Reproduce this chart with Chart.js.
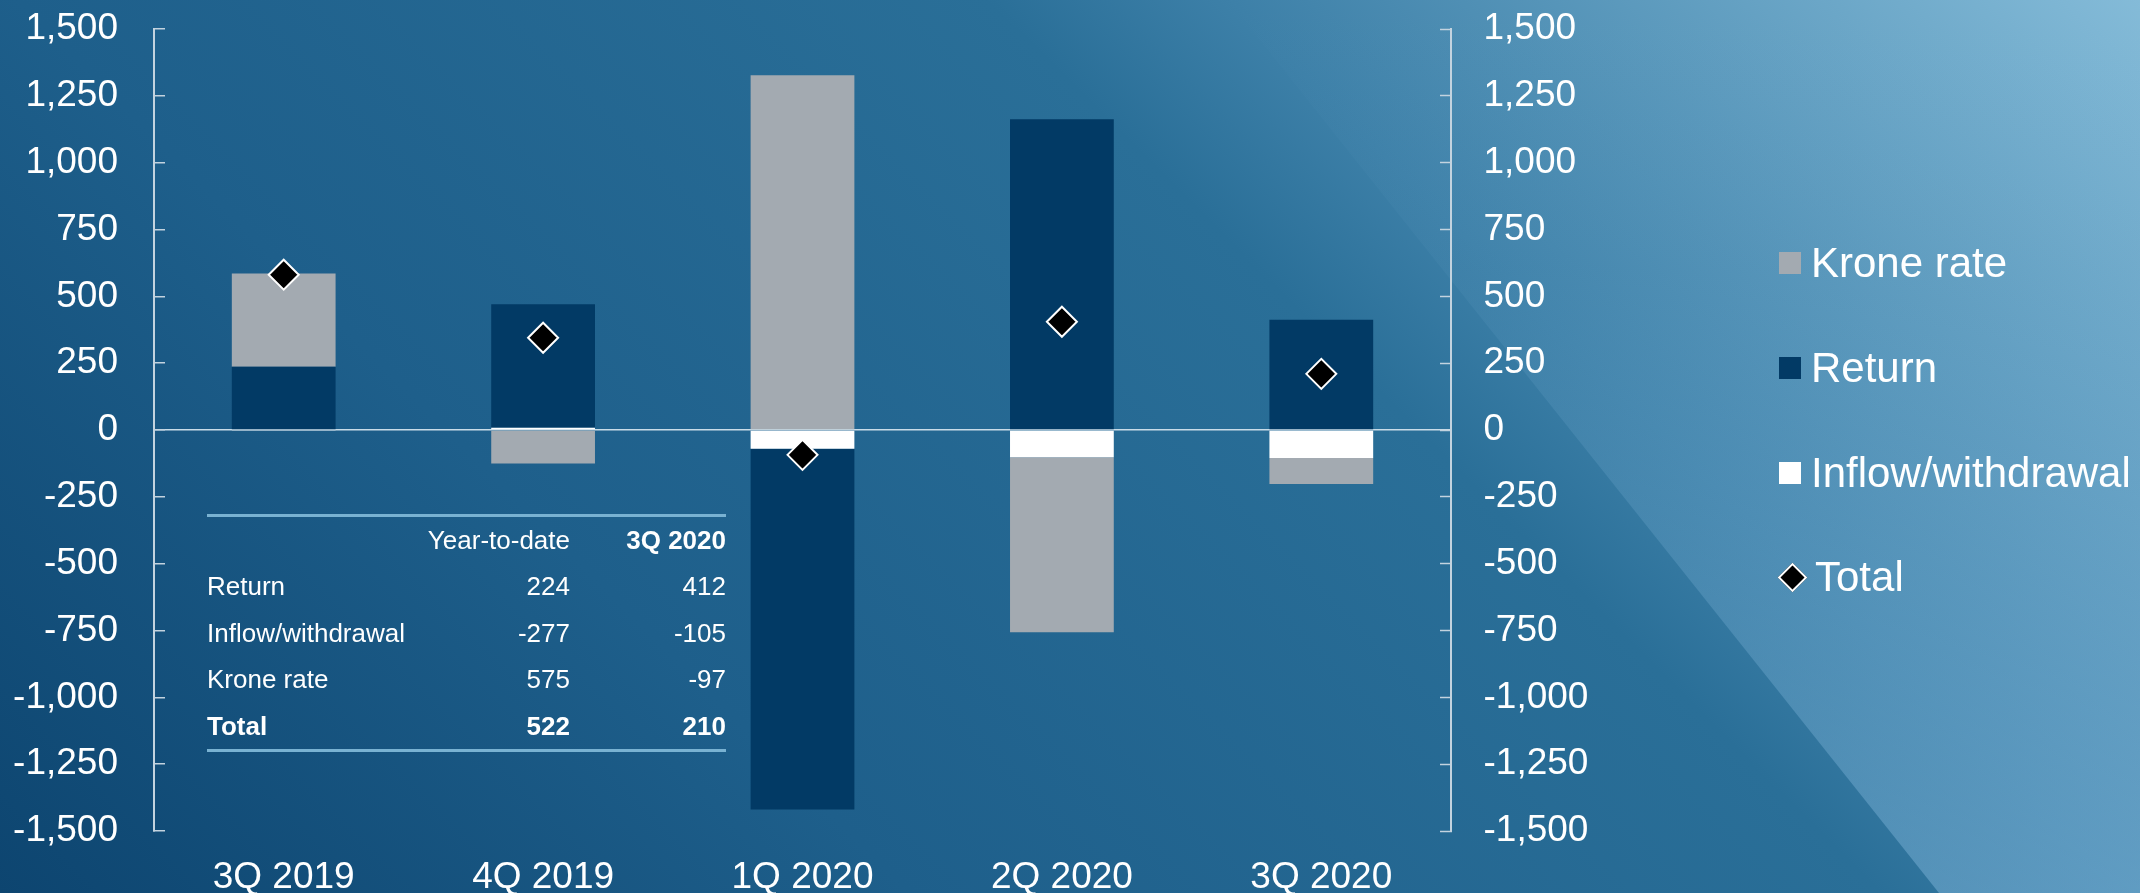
<!DOCTYPE html>
<html>
<head>
<meta charset="utf-8">
<title>Market value change</title>
<script src="https://cdn.jsdelivr.net/npm/chart.js@4.4.1/dist/chart.umd.min.js"></script>
<style>
    html, body { margin: 0; padding: 0; }
    body { width: 2140px; height: 893px; overflow: hidden; font-family: "Liberation Sans", Arial, sans-serif; }
    #wrap {
        position: relative; width: 2140px; height: 893px; overflow: hidden;
        background: linear-gradient(45deg, #0d4570 0%, #1e5f8b 30%, #2a6f98 62%, #3d80a8 70%, #84bbd8 100%);
    }
    /* lighter band in the lower right corner */
    #glow {
        position: absolute; left: 0; top: 0; width: 2140px; height: 893px;
        clip-path: polygon(1228px 0, 2140px 0, 2140px 893px, 1939px 893px);
        background: linear-gradient(to bottom, rgba(150, 200, 235, 0) 0%, rgba(150, 200, 235, 0.05) 30%, rgba(150, 200, 235, 0.38) 100%);
    }
    canvas { position: absolute; left: 0; top: 0; }
    #summary {
        position: absolute; left: 207px; top: 513.5px; width: 519px;
        border-top: 3px solid #79b2d2; border-bottom: 3px solid #79b2d2;
        color: #fff; font-size: 26px;
    }
    #summary .row { display: grid; grid-template-columns: 213px 150px 156px; height: 46.5px; line-height: 46.5px; }
    #summary .num { text-align: right; }
    #summary .bold { font-weight: bold; }
    #legend { position: absolute; left: 1779px; top: 211px; margin: 0; padding: 0; list-style: none; }
    #legend li { height: 104.7px; display: flex; align-items: center; color: #fff; font-size: 42px; white-space: nowrap; }
    #legend .box { width: 22px; height: 22px; margin-right: 10px; flex: none; }
    #legend .diamond { width: 17px; height: 17px; margin: 0 12px 0 3px; transform: rotate(45deg); border: 2px solid #fff; flex: none; }
</style>
</head>
<body>
<div id="wrap">
    <div id="glow"></div>
    <canvas id="mvChart" width="2140" height="893"></canvas>
    <div id="summary"></div>
    <ul id="legend"></ul>
</div>
<script>
    // Data kuartal (mrd kroner)
    const categories = ['3Q 2019', '4Q 2019', '1Q 2020', '2Q 2020', '3Q 2020'];
    const returnValues = [237, 462, -1350, 1162, 412];
    const inflowValues = [-4, 8, -70, -102, -105];
    const kroneValues = [348, -125, 1327, -655, -97];
    const totalValues = [581, 345, -93, 405, 210];

    const yMin = -1500;
    const yMax = 1500;
    const yStep = 250;

    // Tabel ringkasan
    const tableHeader = ['', 'Year-to-date', '3Q 2020'];
    const tableLabels = ['Return', 'Inflow/withdrawal', 'Krone rate', 'Total'];
    const tableYearToDate = [224, -277, 575, 522];
    const tableQuarter = [412, -105, -97, 210];

    const legendOrder = ['Krone rate', 'Return', 'Inflow/withdrawal', 'Total'];

    const axisColor = '#c3d3df';
    const zeroColor = '#c9dce8';

    Chart.defaults.font.family = "'Liberation Sans', Arial, sans-serif";
    Chart.defaults.color = '#ffffff';

    // Bangun tabel
    const summary = document.getElementById('summary');
    function addRow(cells, boldCols) {
        const row = document.createElement('div');
        row.className = 'row';
        cells.forEach((c, i) => {
            const span = document.createElement('span');
            span.textContent = c;
            span.className = (i > 0 ? 'num' : '') + (boldCols.includes(i) ? ' bold' : '');
            row.appendChild(span);
        });
        summary.appendChild(row);
    }
    addRow(tableHeader, [2]);
    tableLabels.forEach((label, i) => {
        const isTotal = label === 'Total';
        addRow([label, String(tableYearToDate[i]), String(tableQuarter[i])], isTotal ? [0, 1, 2] : []);
    });

    // Legend HTML dari dataset chart
    const htmlLegendPlugin = {
        id: 'htmlLegend',
        afterUpdate(chart) {
            const ul = document.getElementById('legend');
            ul.innerHTML = '';
            legendOrder.forEach(name => {
                const ds = chart.data.datasets.find(d => d.label === name);
                const li = document.createElement('li');
                const marker = document.createElement('span');
                if (ds.type === 'line') {
                    marker.className = 'diamond';
                    marker.style.background = ds.pointBackgroundColor;
                    marker.style.borderColor = ds.pointBorderColor;
                } else {
                    marker.className = 'box';
                    marker.style.background = ds.backgroundColor;
                }
                li.appendChild(marker);
                li.appendChild(document.createTextNode(ds.label));
                ul.appendChild(li);
            });
        }
    };

    // Lebar sumbu dikunci supaya area plot sama dengan gambar asli
    function fixAxis(width) {
        return function (scale) {
            scale.width = width;
            scale.paddingTop = 0;
            scale.paddingBottom = 0;
        };
    }

    const ctx = document.getElementById('mvChart').getContext('2d');
    window.mvChart = new Chart(ctx, {
        type: 'bar',
        data: {
            labels: categories,
            datasets: [{
                type: 'line',
                label: 'Total',
                data: totalValues,
                stack: 'total',
                order: -1,
                showLine: false,
                pointStyle: 'rectRot',
                pointRadius: 15,
                pointBackgroundColor: '#000000',
                pointBorderColor: '#ffffff',
                pointBorderWidth: 2
            }, {
                label: 'Inflow/withdrawal',
                data: inflowValues,
                backgroundColor: '#ffffff',
                stack: 'bars'
            }, {
                label: 'Return',
                data: returnValues,
                backgroundColor: '#023a65',
                stack: 'bars'
            }, {
                label: 'Krone rate',
                data: kroneValues,
                backgroundColor: '#a3aab1',
                stack: 'bars'
            }]
        },
        options: {
            responsive: false,
            animation: false,
            barPercentage: 0.4,
            categoryPercentage: 1,
            layout: {
                padding: { top: 29, right: 0, bottom: 0, left: 0 }
            },
            plugins: {
                legend: { display: false },
                tooltip: { enabled: false }
            },
            scales: {
                x: {
                    stacked: true,
                    afterFit: function (scale) { scale.height = 62; },
                    grid: { display: false },
                    border: { display: false },
                    ticks: {
                        color: '#ffffff',
                        font: { size: 37 },
                        padding: 17,
                        maxRotation: 0,
                        autoSkip: false
                    }
                },
                y: {
                    position: 'left',
                    stacked: true,
                    min: yMin,
                    max: yMax,
                    z: 1,
                    afterFit: fixAxis(154),
                    border: { display: true, color: axisColor, width: 2 },
                    grid: {
                        color: function (c) {
                            return c.tick && c.tick.value === 0 ? zeroColor : 'rgba(0,0,0,0)';
                        },
                        lineWidth: 1.5,
                        tickColor: axisColor,
                        tickWidth: 1.5,
                        tickLength: -11
                    },
                    ticks: {
                        stepSize: yStep,
                        padding: 47,
                        color: '#ffffff',
                        font: { size: 37 },
                        callback: function (value) { return value.toLocaleString('en-US'); }
                    }
                },
                y2: {
                    position: 'right',
                    min: yMin,
                    max: yMax,
                    afterFit: fixAxis(689),
                    border: { display: true, color: axisColor, width: 2 },
                    grid: {
                        drawOnChartArea: false,
                        tickColor: axisColor,
                        tickWidth: 1.5,
                        tickLength: -11
                    },
                    ticks: {
                        stepSize: yStep,
                        padding: 43.5,
                        color: '#ffffff',
                        font: { size: 37 },
                        callback: function (value) { return value.toLocaleString('en-US'); }
                    }
                }
            }
        },
        plugins: [htmlLegendPlugin]
    });
</script>
</body>
</html>
